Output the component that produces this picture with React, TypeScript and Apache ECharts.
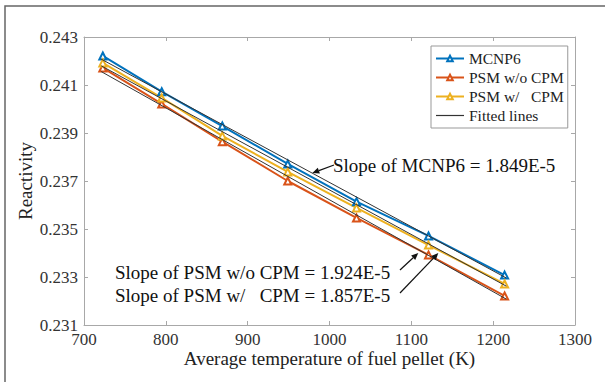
import React, { useEffect, useRef } from "react";
import * as echarts from "echarts";

const temperatures = [723, 795, 869, 949, 1033, 1121, 1214];
const mcnp6 = [0.24221, 0.24072, 0.23929, 0.23771, 0.23614, 0.23471, 0.23308];
const psmWithoutCpm = [0.24171, 0.24021, 0.23864, 0.2370, 0.23546, 0.23392, 0.23221];
const psmWithCpm = [0.24192, 0.24046, 0.23888, 0.23738, 0.23588, 0.23433, 0.23271];

const fitX = [721, 1216];
const fitMcnp6 = [0.24208, 0.23296];
const fitWithout = [0.24156, 0.23208];
const fitWith = [0.24180, 0.23262];

const xTicks = { min: 700, max: 1300, interval: 100 };
const yTicks = { min: 0.231, max: 0.243, interval: 0.002 };

const legendNames = ["MCNP6", "PSM w/o CPM", "PSM w/   CPM", "Fitted lines"];
const legendColors = ["#0072BD", "#D95319", "#EDB120", "#333333"];

const annotations = [
  { text: "Slope of MCNP6 = 1.849E-5", left: 333, cy: 165, tail: [334, 165], tip: [979, 0.23733] },
  { text: "Slope of PSM w/o CPM = 1.924E-5", left: 115, cy: 272, tail: [400, 270], tip: [1108.5, 0.234] },
  { text: "Slope of PSM w/   CPM = 1.857E-5", left: 115, cy: 295, tail: [400, 293], tip: [1133, 0.234] },
];

const BLUE = "#0072BD";
const ORANGE = "#D95319";
const YELLOW = "#EDB120";
const FONT = "'Liberation Serif', 'Times New Roman', serif";

function pairs(xs: number[], ys: number[]) {
  return xs.map((x, i) => [x, ys[i]]);
}

export default function App() {
  const ref = useRef<HTMLDivElement>(null);
  useEffect(() => {
    if (!ref.current) return;
    const chart = echarts.init(ref.current, undefined, { renderer: "svg" });
    const axisLine = { show: true, lineStyle: { color: "#a8a8a8", width: 1 } };
    const tick = { show: true, inside: true, length: 4, lineStyle: { color: "#a8a8a8" } };
    const dataSeries = (name: string, color: string, ys: number[]) => ({
      name,
      type: "line",
      data: pairs(temperatures, ys),
      symbol: "emptyTriangle",
      symbolSize: 7,
      lineStyle: { color, width: 2 },
      itemStyle: { color, borderWidth: 1.5 },
      z: 2,
    });
    const fitSeries = (ys: number[]) => ({
      name: "Fitted lines",
      type: "line",
      data: pairs(fitX, ys),
      symbol: "none",
      lineStyle: { color: "#333333", width: 1 },
      itemStyle: { color: "#333333" },
      z: 3,
    });
    chart.setOption({
      animation: false,
      textStyle: { fontFamily: FONT },
      grid: { left: 84, right: 30, top: 37, bottom: 57 },
      legend: {
        orient: "vertical",
        left: 431,
        top: 46,
        padding: [3, 4, 3, 4],
        itemGap: 0,
        itemWidth: 28,
        itemHeight: 7,
        backgroundColor: "#fff",
        borderColor: "#999",
        borderWidth: 1,
        borderRadius: 0,
        data: legendNames.map((n, i) =>
          i === 3
            ? { name: n, icon: "path://M0,0 L28,0 L28,1.2 L0,1.2 Z", itemStyle: { color: legendColors[i] } }
            : { name: n }
        ),
        textStyle: { fontFamily: FONT, fontSize: 15.5, color: "#222", lineHeight: 19 },
      },
      xAxis: [
        {
          type: "value",
          ...xTicks,
          name: "Average temperature of fuel pellet (K)",
          nameLocation: "middle",
          nameGap: 24,
          nameMoveOverlap: false,
          nameTextStyle: { fontFamily: FONT, fontSize: 19, color: "#222" },
          axisLine,
          axisTick: tick,
          axisLabel: {
            fontFamily: FONT,
            fontSize: 17,
            color: "#333",
            margin: 6,
            formatter: (v: number) => String(v),
          },
          splitLine: { show: false },
        },
        {
          type: "value",
          position: "top",
          ...xTicks,
          axisLine,
          axisTick: tick,
          axisLabel: { show: false },
          splitLine: { show: false },
        },
      ],
      yAxis: [
        {
          type: "value",
          ...yTicks,
          name: "Reactivity",
          nameLocation: "middle",
          nameGap: 49,
          nameMoveOverlap: false,
          nameTextStyle: { fontFamily: FONT, fontSize: 19, color: "#222" },
          axisLine,
          axisTick: tick,
          axisLabel: {
            fontFamily: FONT,
            fontSize: 17,
            color: "#333",
            margin: 6,
            formatter: (v: number) => v.toFixed(3),
          },
          splitLine: { show: false },
        },
        {
          type: "value",
          position: "right",
          ...yTicks,
          axisLine,
          axisTick: tick,
          axisLabel: { show: false },
          splitLine: { show: false },
        },
      ],
      series: [
        dataSeries("MCNP6", BLUE, mcnp6),
        dataSeries("PSM w/o CPM", ORANGE, psmWithoutCpm),
        dataSeries("PSM w/   CPM", YELLOW, psmWithCpm),
        fitSeries(fitMcnp6),
        fitSeries(fitWithout),
        fitSeries(fitWith),
      ],
    });

    const graphics: any[] = [
      {
        type: "rect",
        shape: { x: 5, y: 6, width: 800, height: 600 },
        style: { fill: "none", stroke: "#666", lineWidth: 1.5 },
        silent: true,
        z: 0,
      },
    ];
    annotations.forEach((a) => {
      graphics.push({
        type: "text",
        x: a.left,
        y: a.cy,
        style: {
          text: a.text,
          fontFamily: FONT,
          fontSize: 19,
          fill: "#111",
          verticalAlign: "middle",
          align: "left",
          whiteSpace: "pre",
        },
        z: 10,
      });
      const tip = chart.convertToPixel({ gridIndex: 0 }, a.tip) as number[];
      const [tx, ty] = a.tail;
      const dx = tip[0] - tx;
      const dy = tip[1] - ty;
      const len = Math.sqrt(dx * dx + dy * dy);
      const ux = dx / len;
      const uy = dy / len;
      const hl = 7;
      const hw = 3;
      const bx = tip[0] - ux * hl;
      const by = tip[1] - uy * hl;
      graphics.push({
        type: "line",
        shape: { x1: tx, y1: ty, x2: bx, y2: by },
        style: { stroke: "#111", lineWidth: 1.2 },
        z: 10,
      });
      graphics.push({
        type: "polygon",
        shape: {
          points: [
            [tip[0], tip[1]],
            [bx - uy * hw, by + ux * hw],
            [bx + uy * hw, by - ux * hw],
          ],
        },
        style: { fill: "#111" },
        z: 10,
      });
    });
    chart.setOption({ graphic: graphics });

    return () => chart.dispose();
  }, []);
  return (
    <div
      ref={ref}
      style={{ position: "fixed", left: 0, top: 0, width: 605, height: 382, background: "#fff" }}
    />
  );
}
